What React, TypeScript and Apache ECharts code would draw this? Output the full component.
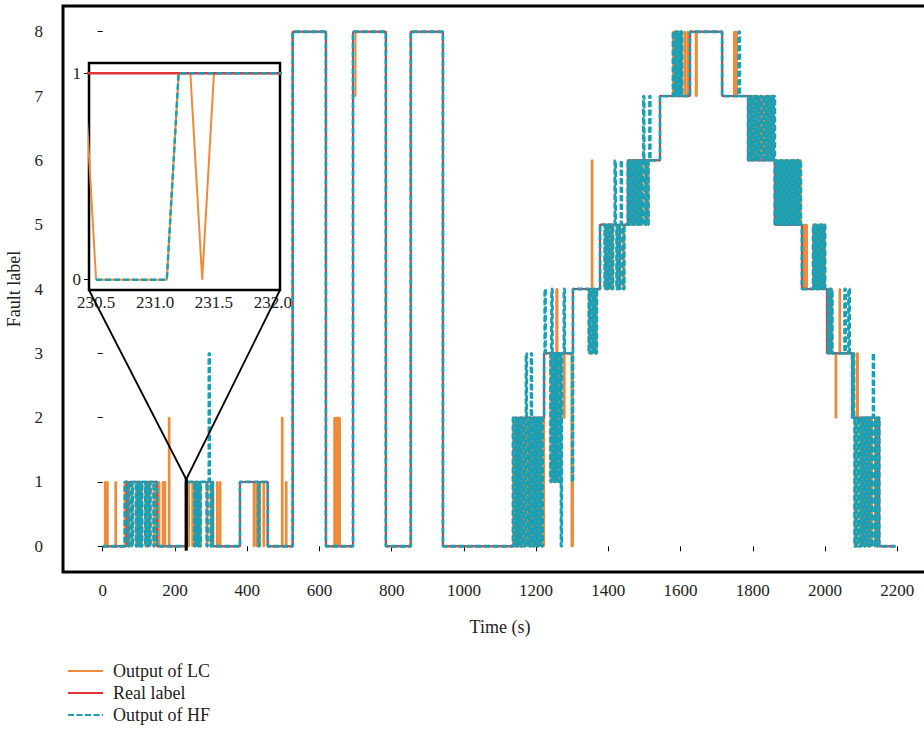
import React, { useEffect, useRef } from 'react';
import * as echarts from 'echarts';

// ---- tick labels ----
const xTicks = [0, 200, 400, 600, 800, 1000, 1200, 1400, 1600, 1800, 2000, 2200];
const yTicks = [0, 1, 2, 3, 4, 5, 6, 7, 8];
const insetXTicks = [230.5, 231.0, 231.5, 232.0];
const insetYTicks = [0, 1];

// ---- main series: [time (s), label], value holds until the next point ----
const realLabel: number[][] = [
  [0, 0], [66, 1], [150, 0], [230, 1], [305, 0], [380, 1], [457, 0], [526, 8], [618, 0],
  [693, 8], [784, 0], [853, 8], [942, 0], [1150, 2], [1222, 3], [1302, 4], [1377, 5],
  [1454, 6], [1543, 7], [1626, 8], [1715, 7], [1787, 6], [1861, 5], [1936, 4], [2005, 3],
  [2075, 2], [2150, 0], [2195, 0],
];

const hfOutput: number[][] = [
  [0, 0],
  [61, 1], [70, 0], [73, 1], [80, 0], [83, 1], [92, 0], [94, 1], [97, 0], [99, 1], [102, 0], [104, 1],
  [107, 0], [109, 1], [118, 0], [120, 1], [124, 0], [126, 1], [130, 0], [132, 1], [141, 0], [143, 1], [150, 0],
  [231.2, 1], [254, 0], [256, 1], [259, 0], [261, 1], [264, 0], [266, 1], [269, 0], [271, 1], [288, 0],
  [290, 1], [294, 3], [296, 1], [299, 0], [301, 1], [305, 0],
  [380, 1], [431, 0], [433, 1], [457, 0],
  [526, 8], [618, 0], [693, 8], [784, 0], [853, 8], [942, 0],
  [1136, 2], [1140, 0], [1143, 2], [1146, 0], [1150, 2], [1154, 0], [1157, 2], [1160, 0], [1163, 2],
  [1167, 0], [1170, 2], [1172, 3], [1174, 2], [1177, 0], [1180, 2], [1184, 0], [1186, 3], [1188, 2],
  [1191, 0], [1194, 2], [1197, 0], [1200, 2], [1203, 0], [1206, 2], [1209, 0], [1212, 2], [1215, 0],
  [1218, 2], [1222, 3],
  [1224, 4], [1226, 3], [1240, 1], [1242, 3], [1243, 4], [1245, 3], [1246, 1], [1249, 3], [1251, 1],
  [1254, 3], [1256, 1], [1259, 3], [1261, 1], [1264, 3], [1269, 0], [1271, 3], [1277, 4], [1279, 3],
  [1300, 1], [1302, 4],
  [1346, 3], [1349, 4], [1352, 3], [1355, 4], [1358, 3], [1361, 4], [1364, 3], [1368, 4], [1377, 5],
  [1390, 4], [1393, 5], [1396, 4], [1399, 5], [1402, 4], [1405, 5], [1410, 4], [1413, 5], [1418, 6],
  [1420, 5], [1423, 4], [1426, 5], [1431, 4], [1433, 5], [1435, 6], [1437, 5], [1441, 4], [1444, 5],
  [1454, 6], [1456, 5], [1459, 6], [1462, 5], [1465, 6], [1468, 5], [1471, 6], [1474, 5], [1477, 6],
  [1480, 5], [1483, 6], [1486, 5], [1489, 6], [1492, 5], [1495, 6], [1497, 7], [1499, 6], [1502, 5],
  [1505, 6], [1508, 5], [1511, 6], [1514, 7], [1516, 6], [1543, 7],
  [1579, 8], [1582, 7], [1585, 8], [1588, 7], [1591, 8], [1594, 7], [1597, 8], [1600, 7], [1602, 8],
  [1604, 7], [1626, 8], [1715, 7], [1761, 8], [1764, 7],
  [1787, 6], [1790, 7], [1793, 6], [1796, 7], [1799, 6], [1802, 7], [1806, 6], [1809, 7], [1812, 6],
  [1815, 7], [1818, 6], [1822, 7], [1825, 6], [1830, 7], [1833, 6], [1837, 7], [1840, 6], [1845, 7],
  [1848, 6], [1852, 7], [1855, 6], [1858, 7], [1861, 5],
  [1864, 6], [1867, 5], [1870, 6], [1873, 5], [1876, 6], [1879, 5], [1882, 6], [1885, 5], [1888, 6],
  [1891, 5], [1894, 6], [1897, 5], [1900, 6], [1903, 5], [1906, 6], [1909, 5], [1912, 6], [1915, 5],
  [1918, 6], [1921, 5], [1924, 6], [1927, 5], [1930, 6], [1933, 5], [1936, 4],
  [1967, 5], [1970, 4], [1973, 5], [1976, 4], [1979, 5], [1982, 4], [1985, 5], [1988, 4], [1991, 5],
  [1994, 4], [1997, 5], [2000, 4], [2005, 4], [2008, 3], [2011, 4], [2014, 3], [2017, 4], [2020, 3],
  [2054, 4], [2057, 3], [2065, 4], [2068, 3], [2075, 2],
  [2077, 3], [2080, 2], [2082, 0], [2085, 2], [2088, 0], [2091, 2], [2094, 0], [2100, 2], [2103, 0],
  [2106, 2], [2109, 0], [2112, 2], [2115, 0], [2118, 2], [2121, 0], [2124, 2], [2127, 0], [2130, 2],
  [2133, 3], [2135, 2], [2138, 0], [2141, 2], [2144, 0], [2147, 2], [2150, 0], [2195, 0],
];

const lcOutput: number[][] = [
  [0, 0], [6, 1], [8, 0], [12, 1], [14, 0], [35, 1], [37, 0],
  [61, 1], [70, 0], [73, 1], [80, 0], [83, 1], [92, 0], [94, 1], [97, 0], [99, 1], [102, 0], [104, 1],
  [107, 0], [109, 1], [118, 0], [120, 1], [124, 0], [126, 1], [130, 0], [132, 1], [141, 0], [143, 1], [150, 0],
  [155, 1], [157, 0], [166, 1], [168, 0], [171, 1], [173, 0], [183, 2], [185, 0],
  [230.4, 1], [230.5, 0], [231.2, 1], [231.4, 0], [231.5, 1], [237, 0], [239, 1], [248, 0], [250, 1],
  [254, 0], [256, 1], [259, 0], [261, 1], [264, 0], [266, 1], [269, 0], [271, 1], [288, 0], [290, 1],
  [299, 0], [301, 1], [305, 0], [316, 1], [318, 0], [324, 1], [326, 0],
  [380, 1], [418, 0], [420, 1], [426, 0], [428, 1], [434, 0], [436, 1], [445, 0], [447, 1], [457, 0],
  [496, 2], [498, 0], [507, 1], [509, 0],
  [526, 8], [618, 0], [641, 2], [644, 0], [646, 2], [649, 0], [651, 2], [654, 0], [655, 2], [657, 0],
  [693, 7], [700, 8], [784, 0], [853, 8], [942, 0],
  [1136, 2], [1140, 0], [1143, 2], [1146, 0], [1150, 2], [1154, 0], [1157, 2], [1160, 0], [1163, 2],
  [1167, 0], [1170, 2], [1174, 0], [1177, 2], [1180, 0], [1184, 2], [1188, 0], [1191, 2], [1194, 0],
  [1197, 2], [1200, 0], [1203, 2], [1206, 0], [1209, 2], [1212, 0], [1215, 2], [1218, 0], [1222, 3],
  [1240, 1], [1242, 3], [1246, 1], [1249, 3], [1251, 1], [1254, 3], [1256, 4], [1259, 3], [1261, 1],
  [1264, 3], [1277, 2], [1279, 3], [1298, 0], [1302, 4],
  [1346, 3], [1349, 4], [1354, 6], [1356, 4], [1358, 3], [1361, 4], [1364, 3], [1368, 4], [1377, 5],
  [1390, 4], [1393, 5], [1396, 4], [1399, 5], [1402, 4], [1405, 5], [1410, 4], [1413, 5], [1423, 4],
  [1426, 5], [1431, 4], [1433, 5], [1441, 4], [1444, 5],
  [1454, 6], [1456, 5], [1459, 6], [1462, 5], [1465, 6], [1468, 5], [1471, 6], [1474, 5], [1477, 6],
  [1480, 5], [1483, 6], [1486, 5], [1489, 6], [1492, 5], [1495, 6], [1502, 5], [1505, 6], [1508, 5],
  [1511, 6], [1543, 7],
  [1579, 8], [1582, 7], [1585, 8], [1588, 7], [1591, 8], [1594, 7], [1597, 8], [1600, 7], [1602, 8],
  [1604, 7], [1611, 8], [1613, 7], [1619, 8], [1621, 7], [1626, 8], [1642, 7], [1645, 8],
  [1715, 7], [1748, 8], [1750, 7], [1753, 8], [1756, 7],
  [1787, 6], [1790, 7], [1793, 6], [1796, 7], [1799, 6], [1802, 7], [1806, 6], [1809, 7], [1812, 6],
  [1815, 7], [1818, 6], [1822, 7], [1825, 6], [1830, 7], [1833, 6], [1835, 7], [1836, 6], [1838, 7],
  [1839, 6], [1841, 7], [1845, 6], [1848, 7], [1852, 6], [1855, 7], [1858, 6], [1861, 5],
  [1864, 6], [1867, 5], [1870, 6], [1873, 5], [1876, 6], [1879, 5], [1882, 6], [1885, 5], [1888, 6],
  [1891, 5], [1894, 6], [1897, 5], [1900, 6], [1903, 5], [1906, 6], [1909, 5], [1912, 6], [1915, 5],
  [1918, 6], [1921, 5], [1924, 6], [1927, 5], [1930, 6], [1933, 5], [1936, 4],
  [1939, 5], [1941, 4], [1943, 5], [1945, 4], [1947, 5], [1950, 4],
  [1967, 5], [1970, 4], [1973, 5], [1976, 4], [1979, 5], [1982, 4], [1985, 5], [1988, 4], [1991, 5],
  [1994, 4], [1997, 5], [2000, 4], [2008, 3], [2011, 4], [2014, 3], [2017, 4], [2020, 3],
  [2029, 2], [2031, 3], [2040, 4], [2042, 3], [2075, 2],
  [2078, 3], [2080, 2], [2082, 0], [2085, 2], [2088, 3], [2091, 2], [2096, 0], [2098, 2], [2103, 0],
  [2106, 2], [2109, 0], [2112, 2], [2115, 0], [2118, 2], [2121, 0], [2124, 2], [2127, 0], [2130, 2],
  [2138, 0], [2141, 2], [2144, 0], [2147, 2], [2150, 0], [2195, 0],
];

// ---- inset (zoom on 230.5 s – 232.0 s) ----
const insetReal: number[][] = [[230.3, 1], [230.5, 1], [231.0, 1], [231.5, 1], [232.0, 1], [232.2, 1]];
const insetHf: number[][] = [
  [230.5, 0], [230.6, 0], [230.7, 0], [230.8, 0], [230.9, 0], [231.0, 0], [231.1, 0], [231.2, 1],
  [231.3, 1], [231.4, 1], [231.5, 1], [231.6, 1], [231.7, 1], [231.8, 1], [231.9, 1], [232.0, 1], [232.1, 1],
];
const insetLc: number[][] = [
  [230.4, 1], [230.5, 0], [230.6, 0], [230.7, 0], [230.8, 0], [230.9, 0], [231.0, 0], [231.1, 0], [231.2, 1],
  [231.3, 1], [231.4, 0], [231.5, 1], [231.6, 1], [231.7, 1], [231.8, 1], [231.9, 1], [232.0, 1], [232.1, 1],
];
const insetXRange = [230.44, 232.06];
const insetYRange = [-0.05, 1.05];

const ORANGE = '#ee8a3a';
const RED = '#e3333b';
const CYAN = '#1aa0b5';
const FONT = 'Liberation Serif';

export default function App() {
  const ref = useRef<HTMLDivElement>(null);

  useEffect(() => {
    if (!ref.current) return;
    const chart = echarts.init(ref.current, undefined, { renderer: 'svg' });
    const labelStyle = { fontFamily: FONT, fontSize: 17, color: '#222' };

    chart.setOption({
      animation: false,
      backgroundColor: '#fff',
      grid: [
        { left: 63, top: 6, width: 874, height: 566, show: true, borderColor: '#000', borderWidth: 3, backgroundColor: 'transparent', outerBoundsMode: 'none', containLabel: false },
        { left: 89, top: 63, width: 191, height: 227, show: true, borderColor: '#000', borderWidth: 2.5, backgroundColor: '#fff', z: 5, outerBoundsMode: 'none', containLabel: false },
      ],
      xAxis: [
        {
          type: 'value', gridIndex: 0, min: -110, max: 2310,
          splitLine: { show: false }, axisLine: { show: false },
          axisTick: { show: true, length: 5, lineStyle: { color: '#000', width: 1 }, customValues: xTicks },
          axisLabel: { ...labelStyle, margin: 10, customValues: xTicks, formatter: (v: number) => String(v) },
          name: 'Time (s)', nameLocation: 'middle', nameGap: 46,
          nameTextStyle: { fontFamily: FONT, fontSize: 18, color: '#222' },
        },
        {
          type: 'value', gridIndex: 1, min: insetXRange[0], max: insetXRange[1],
          splitLine: { show: false }, axisLine: { show: false },
          axisTick: { show: true, length: 5, lineStyle: { color: '#000', width: 1 }, customValues: insetXTicks },
          axisLabel: { ...labelStyle, margin: 4, customValues: insetXTicks, formatter: (v: number) => v.toFixed(1) },
        },
      ],
      yAxis: [
        {
          type: 'value', gridIndex: 0, min: -0.4, max: 8.4,
          splitLine: { show: false }, axisLine: { show: false },
          axisTick: { show: true, length: 5, lineStyle: { color: '#000', width: 1 }, customValues: yTicks },
          axisLabel: { ...labelStyle, margin: 20, customValues: yTicks },
          name: 'Fault label', nameLocation: 'middle', nameGap: 40, nameRotate: 90,
          nameTextStyle: { fontFamily: FONT, fontSize: 18, color: '#222' },
        },
        {
          type: 'value', gridIndex: 1, min: insetYRange[0], max: insetYRange[1],
          splitLine: { show: false }, axisLine: { show: false },
          axisTick: { show: true, length: 5, lineStyle: { color: '#000', width: 1 }, customValues: insetYTicks },
          axisLabel: { ...labelStyle, margin: 8, customValues: insetYTicks },
        },
      ],
      legend: {
        orient: 'vertical', left: 62, top: 657, itemWidth: 35, itemHeight: 12, itemGap: 4,
        data: ['Output of LC', 'Real label', 'Output of HF'],
        itemStyle: { opacity: 0 },
        textStyle: { fontFamily: FONT, fontSize: 18, color: '#222', padding: [0, 0, 0, 5] },
      },
      series: [
        { name: 'Output of LC', type: 'line', step: 'end', xAxisIndex: 0, yAxisIndex: 0, data: lcOutput, symbol: 'none', lineStyle: { color: ORANGE, width: 2 }, itemStyle: { color: ORANGE }, z: 2 },
        { name: 'Real label', type: 'line', step: 'end', xAxisIndex: 0, yAxisIndex: 0, data: realLabel, symbol: 'none', lineStyle: { color: RED, width: 2 }, itemStyle: { color: RED }, z: 3 },
        { name: 'Output of HF', type: 'line', step: 'end', xAxisIndex: 0, yAxisIndex: 0, data: hfOutput, symbol: 'none', lineStyle: { color: CYAN, width: 2.8, type: [6, 2.5] }, itemStyle: { color: CYAN }, z: 4 },
        { name: 'Output of LC', type: 'line', xAxisIndex: 1, yAxisIndex: 1, data: insetLc, symbol: 'none', lineStyle: { color: ORANGE, width: 2 }, itemStyle: { color: ORANGE }, z: 6 },
        { name: 'Real label', type: 'line', xAxisIndex: 1, yAxisIndex: 1, data: insetReal, symbol: 'none', lineStyle: { color: RED, width: 2.5 }, itemStyle: { color: RED }, z: 7 },
        { name: 'Output of HF', type: 'line', xAxisIndex: 1, yAxisIndex: 1, data: insetHf, symbol: 'none', lineStyle: { color: CYAN, width: 2.5, type: [6, 3] }, itemStyle: { color: CYAN }, z: 8 },
      ],
    });

    const m = (p: number[]) => chart.convertToPixel({ xAxisIndex: 0, yAxisIndex: 0 }, p) as number[];
    const n = (p: number[]) => chart.convertToPixel({ xAxisIndex: 1, yAxisIndex: 1 }, p) as number[];
    const rLL = m([insetXRange[0], insetYRange[0]]);
    const rTR = m([insetXRange[1], insetYRange[1]]);
    const iBL = n([insetXRange[0], insetYRange[0]]);
    const iBR = n([insetXRange[1], insetYRange[0]]);
    chart.setOption({
      graphic: [
        { type: 'rect', z: 20, shape: { x: rLL[0], y: rTR[1], width: Math.max(rTR[0] - rLL[0], 0.5), height: rLL[1] - rTR[1] }, style: { fill: 'none', stroke: '#000', lineWidth: 2.5 } },
        { type: 'line', z: 20, shape: { x1: iBL[0], y1: iBL[1], x2: rLL[0], y2: rTR[1] }, style: { stroke: '#000', lineWidth: 1.8 } },
        { type: 'line', z: 20, shape: { x1: iBR[0], y1: iBR[1], x2: rTR[0], y2: rTR[1] }, style: { stroke: '#000', lineWidth: 1.8 } },
      ],
    });

    return () => chart.dispose();
  }, []);

  return <div ref={ref} style={{ position: 'fixed', left: 0, top: 0, width: 924, height: 735, background: '#fff' }} />;
}
